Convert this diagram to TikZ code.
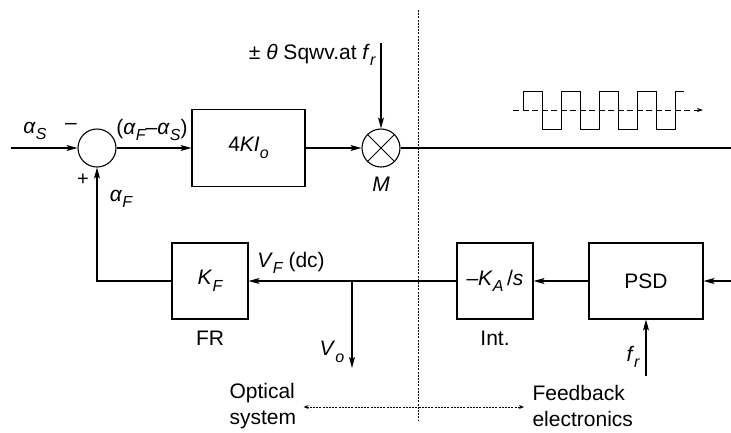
\documentclass[tikz,border=0pt]{standalone}
\usepackage{fontspec}
\setmainfont{Liberation Sans}
\usetikzlibrary{arrows.meta}
\newcommand{\lsub}[1]{\raisebox{-0.6ex}{\fontsize{16}{16}\selectfont\itshape #1}}
\begin{document}
\begin{tikzpicture}[x=1pt,y=-1pt,
  font=\fontsize{21}{26}\selectfont,
  line width=1.1pt,
  arr/.style={-{Stealth[length=11pt,width=6pt,inset=2.5pt]}},
  blk/.style={draw, minimum width=76pt, minimum height=76pt, inner sep=0pt},
  circ/.style={draw, circle, minimum size=38pt, inner sep=0pt},
  lbl/.style={inner sep=1pt},
  sep/.style={line width=0.8pt, dash pattern=on 2pt off 1.2pt},
  wave/.style={line width=1pt}]
\useasboundingbox (0,0) rectangle (731,432);

% top row
\node[circ] (sum) at (97,148) {};
\node[blk, minimum width=113pt, minimum height=77pt] (g) at (248.5,148) {4\textit{KI}\lsub{o}};
\node[circ] (mul) at (381,148) {};
\draw[line width=0.9pt] (mul.north west) -- (mul.south east) (mul.north east) -- (mul.south west);
\coordinate (in) at (11,148);
\coordinate (top) at (381,43);
\coordinate (outr) at (731,148);
\draw[arr] (in) -- (sum.west);
\draw[arr] (sum.east) -- (g.west);
\draw[arr] (g.east) -- (mul.west);
\draw[arr] (top) -- (mul.north);
\draw (mul.east) -- (outr);

% bottom row
\node[blk] (kf) at (210,281) {\textit{K}\lsub{F}};
\node[blk] (int) at (495,281) {–\textit{K}\lsub{A}\,/\textit{s}};
\node[blk, minimum width=114pt] (psd) at (646,281) {PSD};
\coordinate (inr) at (731,281);
\coordinate (br) at (352,281);
\coordinate (vo) at (352,368);
\coordinate (frb) at (646,376);
\draw[arr] (inr) -- (psd.east);
\draw[arr] (psd.west) -- (int.east);
\draw[arr] (int.west) -- (kf.east);
\draw[arr] (br) -- (vo);
\draw[arr] (kf.west) -| (sum.south);
\draw[arr] (frb) -- (psd.south);

% labels
\node[lbl] (las) at (35,131) {\textit{α}\lsub{S}};
\node[lbl] (minus) at (71,126) {–};
\node[lbl] (afas) at (152,130) {(\textit{α}\lsub{F}–\textit{α}\lsub{S})};
\node[lbl] (plus) at (83,180) {\fontsize{20}{20}\selectfont +};
\node[lbl] (alf) at (121,199) {\textit{α}\lsub{F}};
\node[lbl, anchor=east] (ttl) at (377,55) {± \textit{θ} Sqwv.at \textit{f}\lsub{r}};
\node[lbl] (mlbl) at (381,184) {\textit{M}};
\node[lbl] (vf) at (291,263) {\textit{V}\lsub{F} (dc)};
\node[lbl] (frlab) at (210,338) {FR};
\node[lbl] (intlab) at (495,338) {Int.};
\node[lbl] (volab) at (332,352) {\textit{V}\lsub{o}};
\node[lbl] (frl) at (633,357) {\textit{f}\lsub{r}};
\node[lbl, align=left, anchor=west] (opt) at (228,406) {Optical\\system};
\node[lbl, align=left, anchor=west] (fb) at (531,406) {Feedback\\electronics};
\draw[sep, {Stealth[length=5pt,width=4pt]}-{Stealth[length=5pt,width=4pt]}]
  ([xshift=6pt,yshift=-1pt]opt.east) -- ([xshift=-7pt,yshift=-1pt]fb.west);

% separator
\coordinate (septop) at (418,10);
\coordinate (sepbot) at (418,420);
\draw[sep] (septop) -- (sepbot);

% square wave
\coordinate (wa) at (513,110);
\coordinate (wb) at (703,110);
\draw[line width=0.9pt, dash pattern=on 6pt off 3.5pt, -{Stealth[length=6pt,width=4pt]}] (wa) -- (wb);
\draw[wave] (523,110) -- (523,91) -- (542,91) -- (542,129) -- (561,129) -- (561,91)
  -- (580,91) -- (580,129) -- (599,129) -- (599,91) -- (618,91) -- (618,129)
  -- (637,129) -- (637,91) -- (656,91) -- (656,129) -- (675,129) -- (675,91) -- (684,91);
\end{tikzpicture}
\end{document}
